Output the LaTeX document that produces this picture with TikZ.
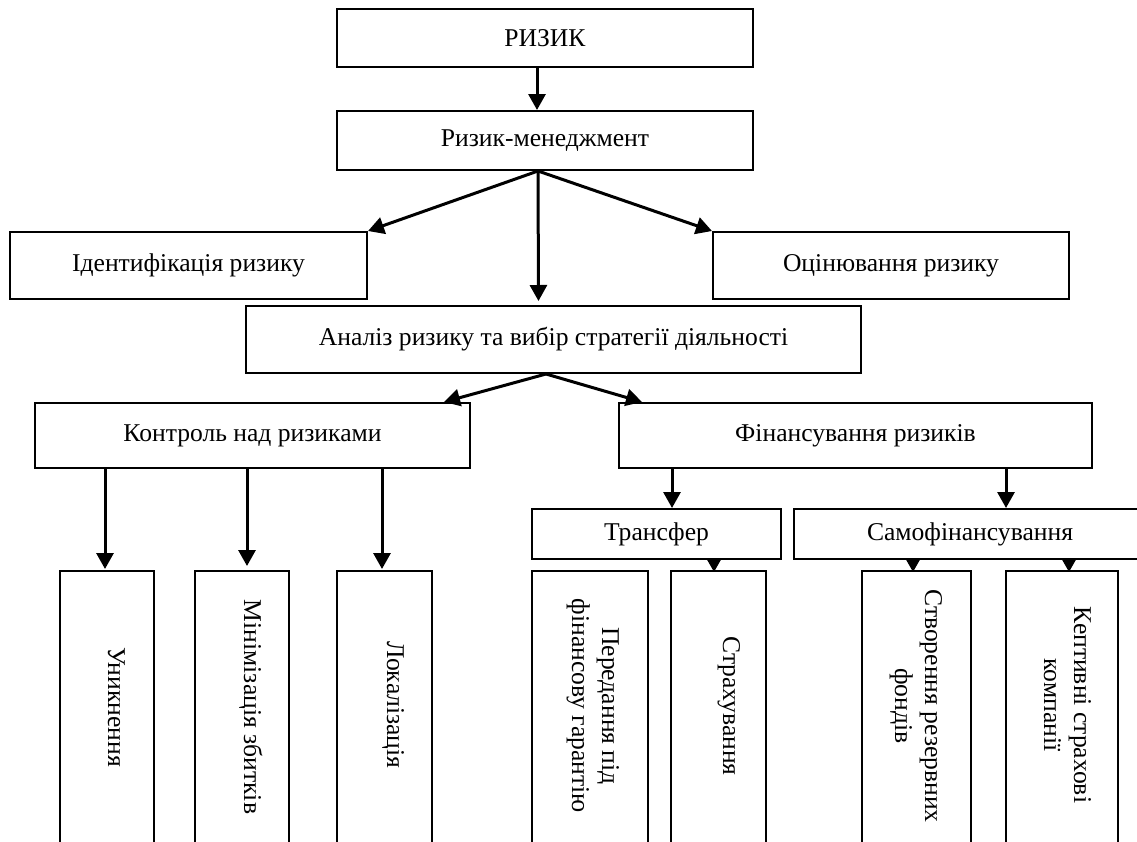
\documentclass[tikz,border=0pt]{standalone}
\usepackage{fontspec}
\setmainfont{Liberation Serif}
\usetikzlibrary{arrows.meta}
\newcommand{\dfont}{\fontsize{25.6}{30}\selectfont}
\tikzset{
  box/.style={draw, line width=2pt, rectangle, inner sep=0pt, font=\dfont, align=center},
  vbox/.style={draw, line width=2pt, rectangle, inner sep=0pt},
  vtxt/.style={rotate=-90, inner sep=0pt, font=\dfont, align=center},
  arr/.style={line width=3pt, -{Triangle[width=17pt,length=16pt]}},
  sarr/.style={line width=3pt, -{Triangle[width=15pt,length=14pt]}},
}
\begin{document}
\begin{tikzpicture}[x=1pt,y=-1pt]
\useasboundingbox (0,0) rectangle (1137,841);
\clip (0,0) rectangle (1137,841);
% top part
\node[box, minimum width=416pt, minimum height=58pt] (rizyk) at (545,38) {РИЗИК};
\node[box, minimum width=416pt, minimum height=59pt] (rm) at (545,140.5) {Ризик-менеджмент};
\node[box, minimum width=357pt, minimum height=67pt] (ident) at (188.5,265.5) {Ідентифікація ризику};
\node[box, minimum width=356pt, minimum height=67pt] (ocin) at (891,265.5) {Оцінювання ризику};
\node[box, minimum width=615pt, minimum height=67pt] (analiz) at (553.5,339.5) {Аналіз ризику та вибір стратегії діяльності};
\node[box, minimum width=435pt, minimum height=65pt] (kontr) at (252.5,435.5) {Контроль над ризиками};
\node[box, minimum width=473pt, minimum height=65pt] (fin) at (855.5,435.5) {Фінансування ризиків};
\node[box, minimum width=249pt, minimum height=50pt] (trans) at (656.5,534) {Трансфер};
\node[box, minimum width=352pt, minimum height=50pt] (samo) at (970,534) {Самофінансування};
% bottom vertical boxes
\node[vbox, minimum width=94pt, minimum height=280pt] (unyk) at (107,711) {};
\node[vbox, minimum width=94pt, minimum height=280pt] (minim) at (242,711) {};
\node[vbox, minimum width=95pt, minimum height=280pt] (lokal) at (384.5,711) {};
\node[vbox, minimum width=116pt, minimum height=280pt] (pered) at (590,711) {};
\node[vbox, minimum width=95pt, minimum height=280pt] (strakh) at (718.5,711) {};
\node[vbox, minimum width=109pt, minimum height=280pt] (stvor) at (916.5,711) {};
\node[vbox, minimum width=112pt, minimum height=280pt] (kept) at (1062,711) {};
% rotated texts
\node[vtxt, anchor=base] (unykT) at (108,707) {Уникнення};
\node[vtxt, anchor=base] (minimT) at (244,707) {Мінімізація збитків};
\node[vtxt, anchor=base] (lokalT) at (387,705) {Локалізація};
\node[vtxt] (peredT) at (593,706) {\strut Передання під\\фінансову гарантію\strut};
\node[vtxt, anchor=base] (strakhT) at (723,706) {Страхування};
\node[vtxt] (stvorT) at (916,706) {\strut Створення резервних\\фондів\strut};
\node[vtxt] (keptT) at (1065,705) {\strut Кептивні страхові\\компанії\strut};
% connectors
\draw[arr] ([xshift=-8pt]rizyk.south) -- ([xshift=-8pt]rm.north);
\draw[arr] ([xshift=-7pt]rm.south) -- (ident.north east);
\draw[arr] ([xshift=-7pt]rm.south) -- (ocin.north west);
\draw[arr] ([xshift=-7pt]rm.south) -- ([xshift=-15pt,yshift=4pt]analiz.north);
\draw[arr] ([xshift=-7.5pt]analiz.south) -- ([xshift=-27pt]kontr.north east);
\draw[arr] ([xshift=-7.5pt]analiz.south) -- ([xshift=24pt]fin.north west);
\draw[arr] ([xshift=-2pt]unyk.north |- kontr.south) -- ([xshift=-2pt,yshift=1pt]unyk.north);
\draw[arr] ([xshift=5pt]minim.north |- kontr.south) -- ([xshift=5pt,yshift=4pt]minim.north);
\draw[arr] ([xshift=-2.5pt]lokal.north |- kontr.south) -- ([xshift=-2.5pt,yshift=1pt]lokal.north);
\draw[arr] ([xshift=15.5pt]trans.north |- fin.south) -- ([xshift=15.5pt]trans.north);
\draw[arr] ([xshift=36pt]samo.north |- fin.south) -- ([xshift=36pt]samo.north);
\draw[sarr] ([xshift=-4.5pt]strakh.north |- trans.south) -- ([xshift=-4.5pt,yshift=-2pt]strakh.north);
\draw[sarr] ([xshift=-3.5pt]stvor.north |- samo.south) -- ([xshift=-3.5pt,yshift=-2pt]stvor.north);
\draw[sarr] ([xshift=7pt]kept.north |- samo.south) -- ([xshift=7pt,yshift=-2pt]kept.north);
\end{tikzpicture}
\end{document}
